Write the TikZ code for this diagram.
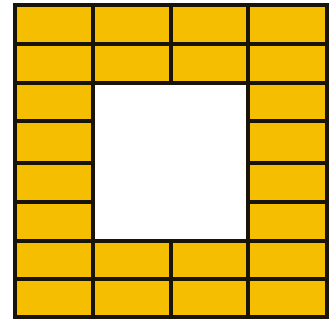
\documentclass[tikz,border=0pt]{standalone}
\definecolor{brick}{RGB}{246,190,0}
\definecolor{edge}{RGB}{25,20,10}
\begin{document}
\begin{tikzpicture}[x=1pt,y=-1pt,line join=miter,
  brickbox/.style={fill=brick,draw=edge,line width=3.4pt}]
\useasboundingbox (0,0) rectangle (331,320);
\def\xa{15}\def\xb{93}\def\xc{171}\def\xd{248}\def\xe{327}
% top and bottom full rows
\foreach \ya/\yb in {5/44,44/83,241/279,279/317}{
  \foreach \xl/\xr in {\xa/\xb,\xb/\xc,\xc/\xd,\xd/\xe}{
    \draw[brickbox] (\xl,\ya) rectangle (\xr,\yb);
  }
}
% side columns
\foreach \ya/\yb in {83/121,121/163,163/202,202/241}{
  \draw[brickbox] (\xa,\ya) rectangle (\xb,\yb);
  \draw[brickbox] (\xd,\ya) rectangle (\xe,\yb);
}
% central hole
\draw[fill=white,draw=edge,line width=3.4pt] (\xb,83) rectangle (\xd,241);
\end{tikzpicture}
\end{document}
